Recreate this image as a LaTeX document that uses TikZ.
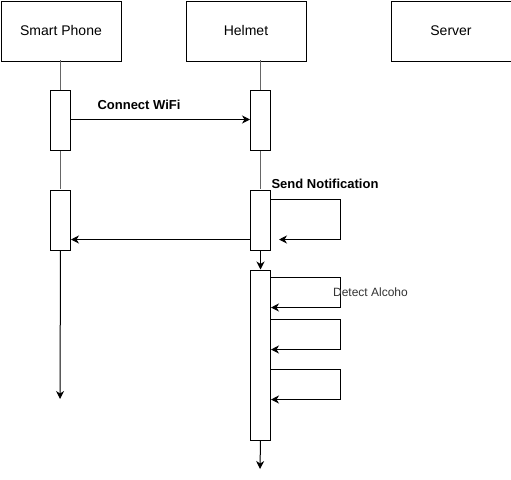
\documentclass[tikz,border=0pt]{standalone}
\usepackage{fontspec}
\setmainfont{Liberation Sans}
\usetikzlibrary{arrows.meta}
\begin{document}
\begin{tikzpicture}[x=1pt,y=-1pt,
  actor/.style={draw,line width=1pt,minimum width=120pt,minimum height=60pt,inner sep=0pt,font=\fontsize{14}{16}\selectfont,anchor=north west},
  act/.style={draw,fill=white,line width=1pt,minimum width=20pt,inner sep=0pt,anchor=north west},
  life/.style={draw=black!60,line width=1pt},
  msg/.style={draw,line width=1pt,-{Stealth[length=8pt,width=8pt,inset=2.5pt]}},
  lbl/.style={font=\bfseries\fontsize{13}{15}\selectfont}
]
\useasboundingbox (0,0) rectangle (511,479);
\node[actor] (sp) at (0.5,0.5) {\raisebox{1pt}{Smart Phone}};
\node[actor] (hm) at (185.5,0.5) {\raisebox{1pt}{Helmet}};
\node[actor] (sv) at (390.5,0.5) {\raisebox{1pt}{Server}};
% lifelines
\draw[life] (60,60) -- (60,189);
\draw[life] (260,60) -- (260,189);
% activations
\node[act,minimum height=60pt] (p1) at (50,89.5) {};
\node[act,minimum height=60pt] (p2) at (50,189.5) {};
\node[act,minimum height=60pt] (h1) at (250,89.5) {};
\node[act,minimum height=60pt] (h2) at (250,189.5) {};
\node[act,minimum height=170pt] (h3) at (250,269.5) {};
\coordinate (pend) at (60,399);
\coordinate (hend) at (260,469);
\draw[msg] (p2.south) -- (pend);
\draw[msg] (h2.south) -- (h3.north);
\draw[msg] (h3.south) -- (hend);
% connect wifi
\draw[msg] (p1.east |- 0,119.5) -- (h1.west |- 0,119.5);
\node[lbl] (cw) at (139,105) {Connect WiFi};
% send notification
\node[lbl] (sn) at (325,184) {Send Notification};
\coordinate (a1) at (340,199.5);
\coordinate (a2) at (340,239.5);
\coordinate (a3) at (279,239.5);
\draw[msg] (h2.east |- a1) -- (a1) -- (a2) -- (a3);
\draw[msg] (h2.west |- a2) -- (p2.east |- a2);
% loops
\foreach \t/\b in {277.5/307.5,319.5/349.5,369.5/399.5}{
  \draw[msg] (h3.east |- 0,\t) -- (340,\t) -- (340,\b) -- (h3.east |- 0,\b);
}
\node[font=\fontsize{12}{14}\selectfont,text=black!80] (da) at (370.5,292) {Detect Alcoho};
\end{tikzpicture}
\end{document}
